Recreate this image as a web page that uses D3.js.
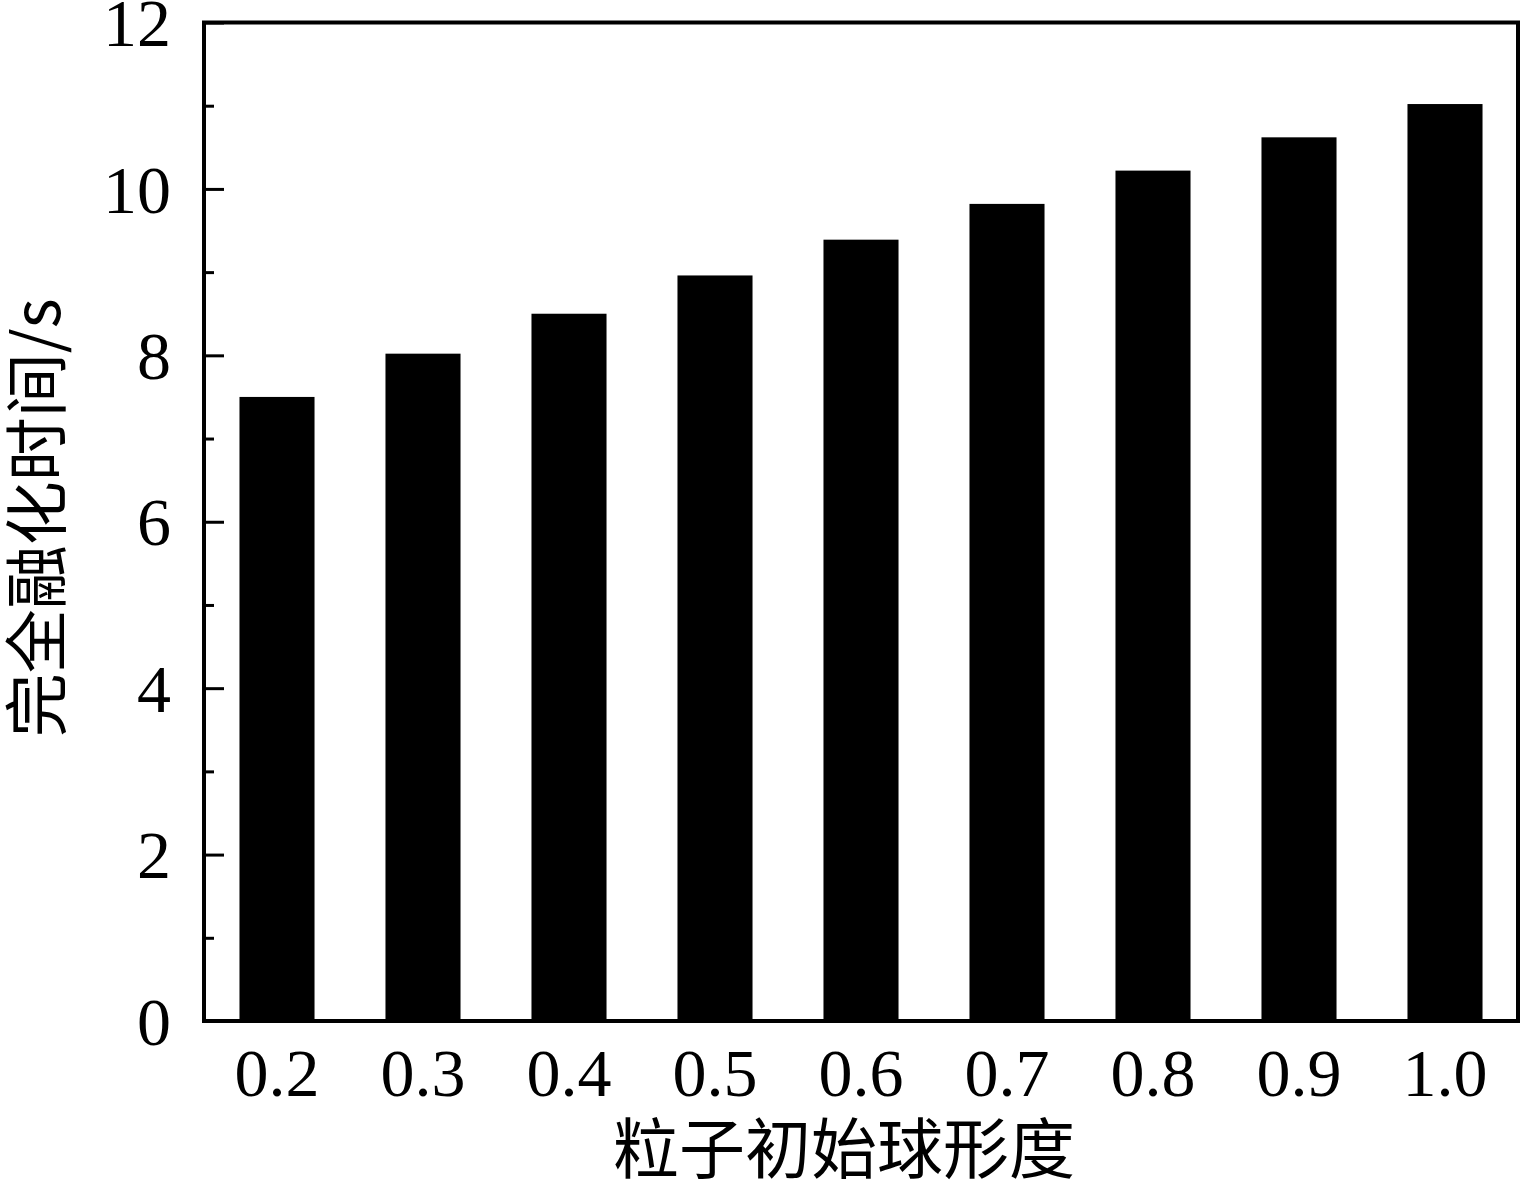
<!DOCTYPE html>
<html lang="zh">
<head>
    <meta charset="UTF-8">
    <title>完全融化时间</title>
    <script src="https://d3js.org/d3.v7.min.js"></script>
    <style>
        body { margin: 0; background: #fff; }
        svg { display: block; }
        .tick text { font-family: "Liberation Serif", "Times New Roman", serif; font-size: 68px; fill: #000; }
        .cjk { font-family: "Noto Sans CJK SC", sans-serif; font-size: 64px; fill: #000; }
    </style>
</head>
<body>
    <svg id="chart"></svg>
    <script>
        const categories = ["0.2", "0.3", "0.4", "0.5", "0.6", "0.7", "0.8", "0.9", "1.0"];
        const meltTimes = [7.5, 8.02, 8.5, 8.96, 9.39, 9.82, 10.22, 10.62, 11.02];
        const yMajorTicks = [0, 2, 4, 6, 8, 10, 12];
        const yMinorTicks = [1, 3, 5, 7, 9, 11];
        const xTitle = "粒子初始球形度";
        const yTitle = "完全融化时间/s";

        const width = 1520, height = 1186;
        const margin = {top: 22.5, right: 2, bottom: 165, left: 204};
        const svg = d3.select("#chart").attr("width", width).attr("height", height);

        const x = d3.scaleBand()
            .domain(categories)
            .range([margin.left, width - margin.right])
            .paddingInner(0.486)
            .paddingOuter(0.243);

        const y = d3.scaleLinear()
            .domain([0, 12])
            .range([height - margin.bottom, margin.top]);

        // bars
        svg.append("g")
            .selectAll("rect")
            .data(meltTimes)
            .join("rect")
            .attr("x", (d, i) => x(categories[i]))
            .attr("y", d => y(d))
            .attr("width", x.bandwidth())
            .attr("height", d => y(0) - y(d))
            .attr("fill", "#000");

        // minor ticks (inward)
        svg.append("g")
            .attr("transform", `translate(${margin.left},0)`)
            .call(d3.axisLeft(y).tickValues(yMinorTicks).tickSize(-10).tickFormat(""))
            .call(g => g.select(".domain").remove())
            .call(g => g.selectAll("line").attr("stroke-width", 3));

        // major ticks + labels
        svg.append("g")
            .attr("transform", `translate(${margin.left},0)`)
            .call(d3.axisLeft(y).tickValues(yMajorTicks).tickSize(-20).tickPadding(33).tickFormat(d3.format("d")))
            .call(g => g.select(".domain").remove())
            .call(g => g.selectAll("line").attr("stroke-width", 3))
            .call(g => g.selectAll("text").attr("dy", "0.34em"));

        // x labels, no ticks
        svg.append("g")
            .attr("transform", `translate(0,${y(0)})`)
            .call(d3.axisBottom(x).tickSize(0).tickPadding(0))
            .call(g => g.select(".domain").remove())
            .call(g => g.selectAll("text").attr("dy", null).attr("y", 75));

        // frame
        svg.append("rect")
            .attr("x", margin.left)
            .attr("y", margin.top)
            .attr("width", width - margin.right - margin.left)
            .attr("height", y(0) - margin.top)
            .attr("fill", "none")
            .attr("stroke", "#000")
            .attr("stroke-width", 4);

        svg.append("text")
            .attr("class", "cjk")
            .attr("x", 844)
            .attr("y", 1173)
            .attr("text-anchor", "middle")
            .style("font-size", "66px")
            .text(xTitle);

        svg.append("text")
            .attr("class", "cjk")
            .attr("transform", `translate(32,${(y(0) + y(12)) / 2 - 4}) rotate(-90)`)
            .attr("text-anchor", "middle")
            .attr("dominant-baseline", "central")
            .text(yTitle);
    </script>
</body>
</html>
